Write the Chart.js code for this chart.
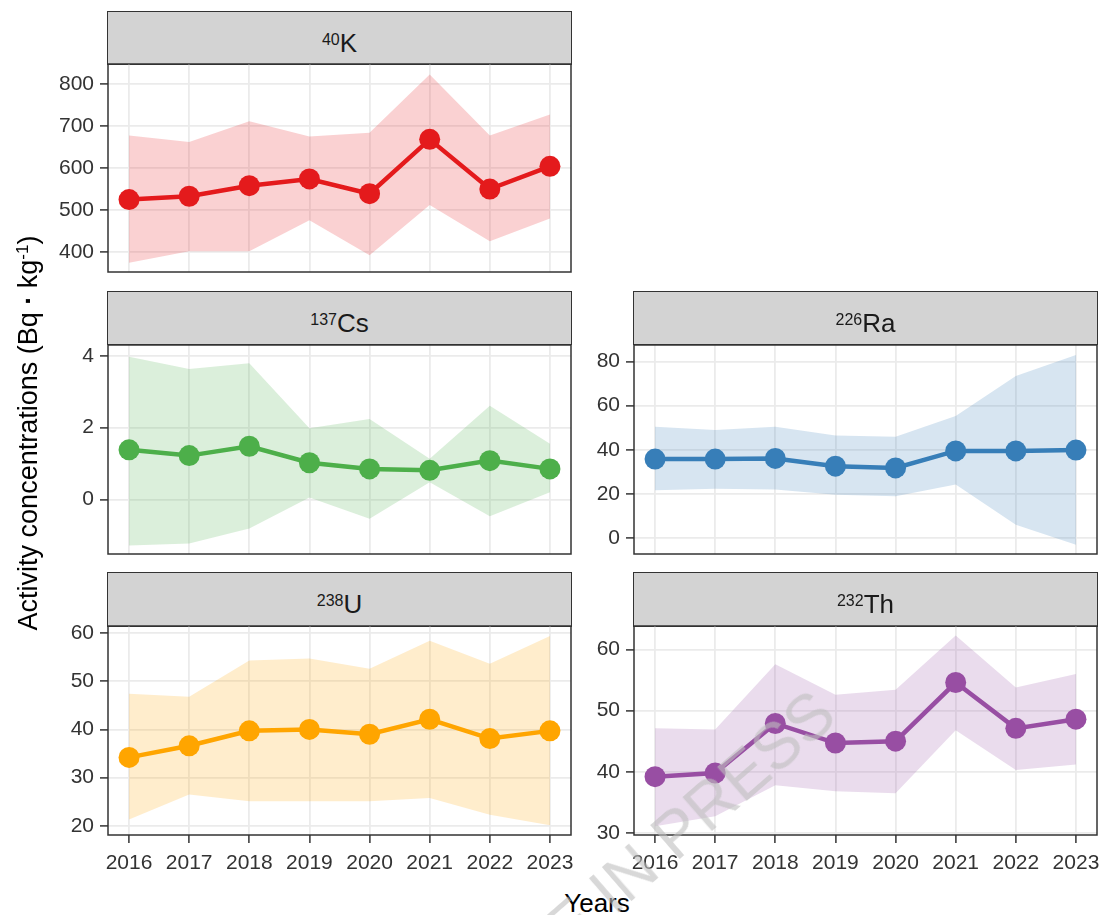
<!DOCTYPE html>
<html>
<head>
<meta charset="utf-8">
<script src="https://cdn.jsdelivr.net/npm/chart.js@4.4.1/dist/chart.umd.min.js"></script>
<style>
  html, body { margin: 0; padding: 0; background: #fff; }
  #fig { position: relative; width: 1101px; height: 915px; overflow: hidden;
         font-family: "Liberation Sans", Arial, sans-serif; background: #fff; }
  .strip { position: absolute; box-sizing: border-box; background: #D3D3D3; border: 1.5px solid #333; }
  .strip .lab { position: absolute; left: 0; right: 0; top: 1px; height: 53px; line-height: 53px;
                text-align: center; font-size: 26px; color: #1a1a1a; white-space: nowrap; }
  .iso { font-size: 16px; vertical-align: 7px; }
  canvas { position: absolute; }
  .ytitle { position: absolute; width: 540px; height: 30px; line-height: 30px; text-align: center;
            font-size: 27px; color: #000; white-space: nowrap; transform: rotate(-90deg); }
  .ytitle .sup { font-size: 17px; vertical-align: 9px; }
  .xtitle { position: absolute; width: 200px; height: 30px; line-height: 30px; text-align: center;
            font-size: 26px; color: #000; }
  .wm { position: absolute; left: 0; top: 0; transform-origin: 0 0; pointer-events: none; }
  .wm span { position: absolute; left: 0; bottom: 0; line-height: 1; white-space: nowrap;
             font-size: 64px; color: rgba(190, 190, 190, 0.6); font-family: "Liberation Sans", Arial, sans-serif; }
</style>
</head>
<body>
<div id="fig"></div>
<script>
// ---- data -------------------------------------------------------------
const years = [2016, 2017, 2018, 2019, 2020, 2021, 2022, 2023];

const kMean  = [525, 533, 558, 574, 539, 668, 550, 604];
const kHigh  = [677, 662, 711, 675, 684, 822, 677, 727];
const kLow   = [375, 402, 402, 476, 393, 512, 426, 480];
const kTicks = [400, 500, 600, 700, 800];

const csMean  = [1.38, 1.22, 1.48, 1.02, 0.85, 0.81, 1.08, 0.85];
const csHigh  = [3.97, 3.63, 3.79, 1.98, 2.24, 1.13, 2.61, 1.55];
const csLow   = [-1.28, -1.23, -0.81, 0.05, -0.54, 0.48, -0.47, 0.20];
const csTicks = [0, 2, 4];

const raMean  = [35.8, 35.8, 36.1, 32.6, 31.8, 39.5, 39.5, 39.9];
const raHigh  = [50.5, 49.0, 50.5, 46.5, 45.9, 55.3, 73.5, 83.0];
const raLow   = [21.7, 22.4, 22.0, 19.7, 19.0, 24.3, 6.1, -3.0];
const raTicks = [0, 20, 40, 60, 80];

const uMean  = [34.2, 36.6, 39.7, 40.0, 39.0, 42.1, 38.1, 39.7];
const uHigh  = [47.4, 46.8, 54.3, 54.7, 52.6, 58.4, 53.6, 59.4];
const uLow   = [21.3, 26.5, 25.1, 25.1, 25.1, 25.8, 22.3, 20.1];
const uTicks = [20, 30, 40, 50, 60];

const thMean  = [39.2, 39.8, 47.9, 44.7, 45.0, 54.6, 47.1, 48.6];
const thHigh  = [47.1, 46.9, 57.6, 52.6, 53.4, 62.3, 53.8, 56.0];
const thLow   = [31.1, 32.7, 37.8, 36.8, 36.5, 46.8, 40.3, 41.2];
const thTicks = [30, 40, 50, 60];

// ---- layout -----------------------------------------------------------
const FONT = '"Liberation Sans", Arial, sans-serif';
const COLS = [{ left: 108, right: 571 }, { left: 634, right: 1097 }];
const ROWS = [
  { stripTop: 10.5,  plotTop: 64,  plotBottom: 272 },
  { stripTop: 290.5, plotTop: 344.5, plotBottom: 553.5 },
  { stripTop: 571.5, plotTop: 626, plotBottom: 835 }
];
const AXW = 70;   // room for y tick labels
const XH = 45;    // room for x tick labels (bottom row)
const PAD = 3;

const panels = [
  { iso: '40',  el: 'K',  col: 0, row: 0, color: '#E41A1C', rgb: '228,26,28',
    mean: kMean,  hi: kHigh,  lo: kLow,  ticks: kTicks,  min: 353,   max: 847 },
  { iso: '137', el: 'Cs', col: 0, row: 1, color: '#4DAF4A', rgb: '77,175,74',
    mean: csMean, hi: csHigh, lo: csLow, ticks: csTicks, min: -1.52, max: 4.3 },
  { iso: '226', el: 'Ra', col: 1, row: 1, color: '#377EB8', rgb: '55,126,184',
    mean: raMean, hi: raHigh, lo: raLow, ticks: raTicks, min: -7.2,  max: 87.5 },
  { iso: '238', el: 'U',  col: 0, row: 2, color: '#FFA500', rgb: '255,165,0',
    mean: uMean,  hi: uHigh,  lo: uLow,  ticks: uTicks,  min: 18.1,  max: 61.45 },
  { iso: '232', el: 'Th', col: 1, row: 2, color: '#984EA3', rgb: '152,78,163',
    mean: thMean, hi: thHigh, lo: thLow, ticks: thTicks, min: 29.65, max: 63.85 }
];

const fig = document.getElementById('fig');

// rectangle drawn around each panel's plotting area
const panelBorder = {
  id: 'panelBorder',
  afterDraw(chart) {
    const { ctx, chartArea: a } = chart;
    ctx.save();
    ctx.strokeStyle = '#333333';
    ctx.lineWidth = 1.5;
    ctx.strokeRect(a.left, a.top, a.right - a.left, a.bottom - a.top);
    ctx.restore();
  }
};

function pts(vals) { return years.map((y, i) => ({ x: y, y: vals[i] })); }

panels.forEach(p => {
  const col = COLS[p.col], row = ROWS[p.row];
  const bottom = p.row === 2;
  const plotW = col.right - col.left;
  const plotH = row.plotBottom - row.plotTop;

  // facet strip
  const strip = document.createElement('div');
  strip.className = 'strip';
  strip.style.left = (col.left - 0.75) + 'px';
  strip.style.top = row.stripTop + 'px';
  strip.style.width = (plotW + 1.5) + 'px';
  strip.style.height = (row.plotTop - row.stripTop + 0.75) + 'px';
  strip.innerHTML = '<div class="lab"><span class="iso">' + p.iso + '</span>' + p.el + '</div>';
  fig.appendChild(strip);

  // chart canvas
  const cv = document.createElement('canvas');
  const w = AXW + plotW + PAD;
  const h = PAD + plotH + (bottom ? XH : PAD);
  cv.width = w; cv.height = h;
  cv.style.width = w + 'px'; cv.style.height = h + 'px';
  cv.style.left = (col.left - AXW) + 'px';
  cv.style.top = (row.plotTop - PAD) + 'px';
  fig.appendChild(cv);

  new Chart(cv.getContext('2d'), {
    type: 'line',
    data: {
      datasets: [
        { data: pts(p.mean), borderColor: p.color, backgroundColor: p.color,
          pointBackgroundColor: p.color, pointBorderWidth: 0, pointRadius: 10.5,
          borderWidth: 4.5, fill: false, tension: 0 },
        { data: pts(p.hi), borderColor: 'transparent', borderWidth: 0, pointRadius: 0, fill: false },
        { data: pts(p.lo), borderColor: 'transparent', borderWidth: 0, pointRadius: 0,
          fill: '-1', backgroundColor: 'rgba(' + p.rgb + ',0.2)' }
      ]
    },
    options: {
      responsive: false,
      animation: false,
      devicePixelRatio: 1,
      layout: { autoPadding: false,
                padding: { top: PAD, right: PAD, bottom: bottom ? 0 : PAD, left: 0 } },
      plugins: { legend: { display: false }, title: { display: false }, tooltip: { enabled: false } },
      scales: {
        x: {
          type: 'linear', min: 2015.65, max: 2023.35,
          afterBuildTicks: s => { s.ticks = years.map(v => ({ value: v })); },
          afterFit: s => { s.height = bottom ? XH : 0; s.paddingLeft = 0; s.paddingRight = 0; },
          border: { display: false },
          grid: { color: '#EBEBEB', lineWidth: 1.8, drawTicks: bottom, tickLength: 8,
                  tickColor: '#333333', tickWidth: 1.5 },
          ticks: { display: bottom, autoSkip: false, maxRotation: 0, padding: 8, color: '#333333',
                   font: { family: FONT, size: 21 }, callback: v => String(v) }
        },
        y: {
          type: 'linear', min: p.min, max: p.max,
          afterBuildTicks: s => { s.ticks = p.ticks.map(v => ({ value: v })); },
          afterFit: s => { s.width = AXW; s.paddingTop = 0; s.paddingBottom = 0; },
          border: { display: false },
          grid: { color: '#EBEBEB', lineWidth: 1.8, drawTicks: true, tickLength: 8,
                  tickColor: '#333333', tickWidth: 1.5 },
          ticks: { padding: 6, color: '#333333', font: { family: FONT, size: 21 },
                   callback: v => String(v) }
        }
      }
    },
    plugins: [panelBorder]
  });
});

// axis titles
const yt = document.createElement('div');
yt.className = 'ytitle';
yt.style.left = (23 - 270) + 'px';
yt.style.top = (433 - 15) + 'px';
yt.innerHTML = 'Activity concentrations (Bq<b> · </b>kg<span class="sup">-1</span>)';
fig.appendChild(yt);

const xt = document.createElement('div');
xt.className = 'xtitle';
xt.style.left = (597 - 100) + 'px';
xt.style.top = '888px';
xt.textContent = 'Years';
fig.appendChild(xt);

// diagonal watermark
const wm = document.createElement('div');
wm.className = 'wm';
wm.style.left = '404px';
wm.style.top = '1112px';
wm.style.transform = 'rotate(-41deg)';
wm.innerHTML = '<span>ARTICLE IN PRESS</span>';
fig.appendChild(wm);
</script>
</body>
</html>
